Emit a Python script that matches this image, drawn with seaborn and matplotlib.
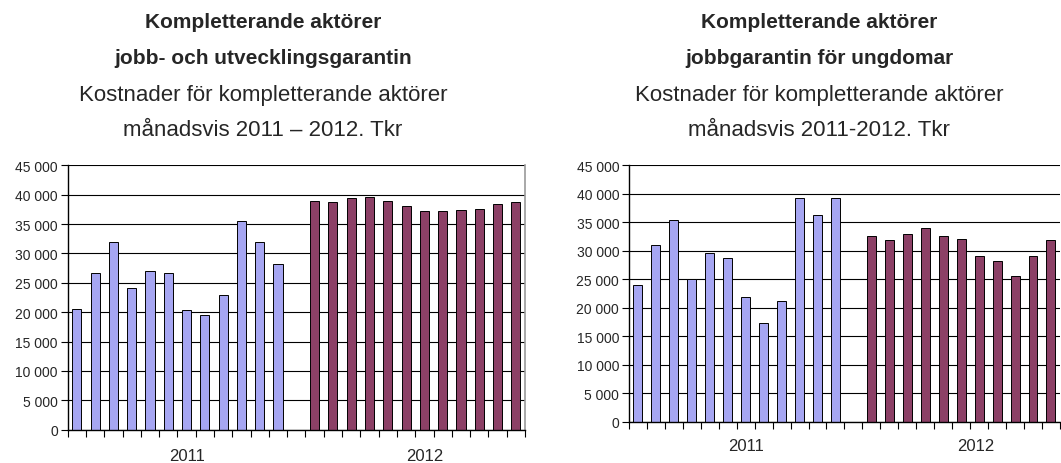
import matplotlib
matplotlib.use("Agg")
import matplotlib.pyplot as plt
import matplotlib.ticker as mticker
import seaborn as sns
import pandas as pd

sns.set_theme(style="white")
plt.rcParams['font.family'] = ['Liberation Sans', 'DejaVu Sans']

months = ["jan", "feb", "mar", "apr", "maj", "jun", "jul", "aug", "sep", "okt", "nov", "dec"]

left_2011 = [20500, 26600, 32000, 24100, 27000, 26600, 20300, 19500, 22900, 35600, 31900, 28200]
left_2012 = [39000, 38800, 39400, 39600, 39000, 38000, 37200, 37200, 37400, 37600, 38400, 38800]

right_2011 = [24000, 31000, 35300, 25100, 29500, 28700, 21800, 17300, 21100, 39200, 36300, 39200]
right_2012 = [32600, 31900, 33000, 34000, 32600, 32000, 29100, 28100, 25500, 29100, 31900]

years = ["2011", "2012"]
colors = {"2011": "#9999FF", "2012": "#993366"}

left_title_bold = ["Kompletterande aktörer", "jobb- och utvecklingsgarantin"]
left_title = ["Kostnader för kompletterande aktörer", "månadsvis 2011 – 2012. Tkr"]
right_title_bold = ["Kompletterande aktörer", "jobbgarantin för ungdomar"]
right_title = ["Kostnader för kompletterande aktörer", "månadsvis 2011-2012. Tkr"]


def make_df(v2011, v2012):
    rows = []
    for i, v in enumerate(v2011):
        rows.append({"pos": i, "value": v, "year": years[0], "month": months[i]})
    for i, v in enumerate(v2012):
        rows.append({"pos": 13 + i, "value": v, "year": years[1], "month": months[i]})
    return pd.DataFrame(rows)


fig = plt.figure(figsize=(10.61, 4.64), dpi=100)
ax1 = fig.add_axes([0.0638, 0.0718, 0.4310, 0.5698])
ax2 = fig.add_axes([0.5928, 0.0890, 0.4062, 0.5530])


def draw(ax, df, nslots, label_pos, label_pad, right_spine):
    sns.barplot(data=df, x="pos", y="value", hue="year", palette=colors,
                native_scale=True, width=0.5, dodge=False, edgecolor="black",
                linewidth=0.7, legend=False, ax=ax, zorder=3)
    ax.set_xlim(-0.5, nslots - 0.5)
    ax.set_ylim(0, 45000)
    ax.yaxis.set_major_locator(mticker.MultipleLocator(5000))
    ax.yaxis.set_major_formatter(mticker.FuncFormatter(
        lambda v, p: f"{int(v):,}".replace(",", " ")))
    ax.grid(axis="y", color="black", linewidth=0.8, zorder=0)
    ax.set_axisbelow(True)
    ax.set_xticks(label_pos)
    ax.set_xticklabels(years, fontsize=12)
    ax.tick_params(axis="x", which="major", length=0, pad=label_pad)
    ax.set_xticks([i - 0.5 for i in range(nslots + 1)], minor=True)
    ax.tick_params(axis="x", which="minor", length=5, width=0.8, color="black",
                   direction="out", bottom=True)
    ax.tick_params(axis="y", length=5, width=0.8, color="black", direction="out",
                   left=True, labelsize=10, pad=2)
    ax.set_xlabel("")
    ax.set_ylabel("")
    for s in ["left", "bottom"]:
        ax.spines[s].set_color("black")
        ax.spines[s].set_linewidth(1.0)
        ax.spines[s].set_zorder(4)
    ax.spines["top"].set_visible(False)
    if right_spine:
        ax.spines["right"].set_color("#999999")
        ax.spines["right"].set_linewidth(1.2)
    else:
        ax.spines["right"].set_visible(False)


draw(ax1, make_df(left_2011, left_2012), 25, [6, 19], 13, True)
draw(ax2, make_df(right_2011, right_2012), 24, [6, 18.8], 12, False)

for cx, tb, tn in [(263 / 1061, left_title_bold, left_title),
                   (819 / 1061, right_title_bold, right_title)]:
    for line, y in zip(tb, [23, 58]):
        fig.text(cx, 1 - y / 464, line, ha="center", va="center", fontsize=15,
                 fontweight="bold")
    for line, y in zip(tn, [95, 130]):
        fig.text(cx, 1 - y / 464, line, ha="center", va="center", fontsize=16)

fig.savefig("out.png", dpi=100)
